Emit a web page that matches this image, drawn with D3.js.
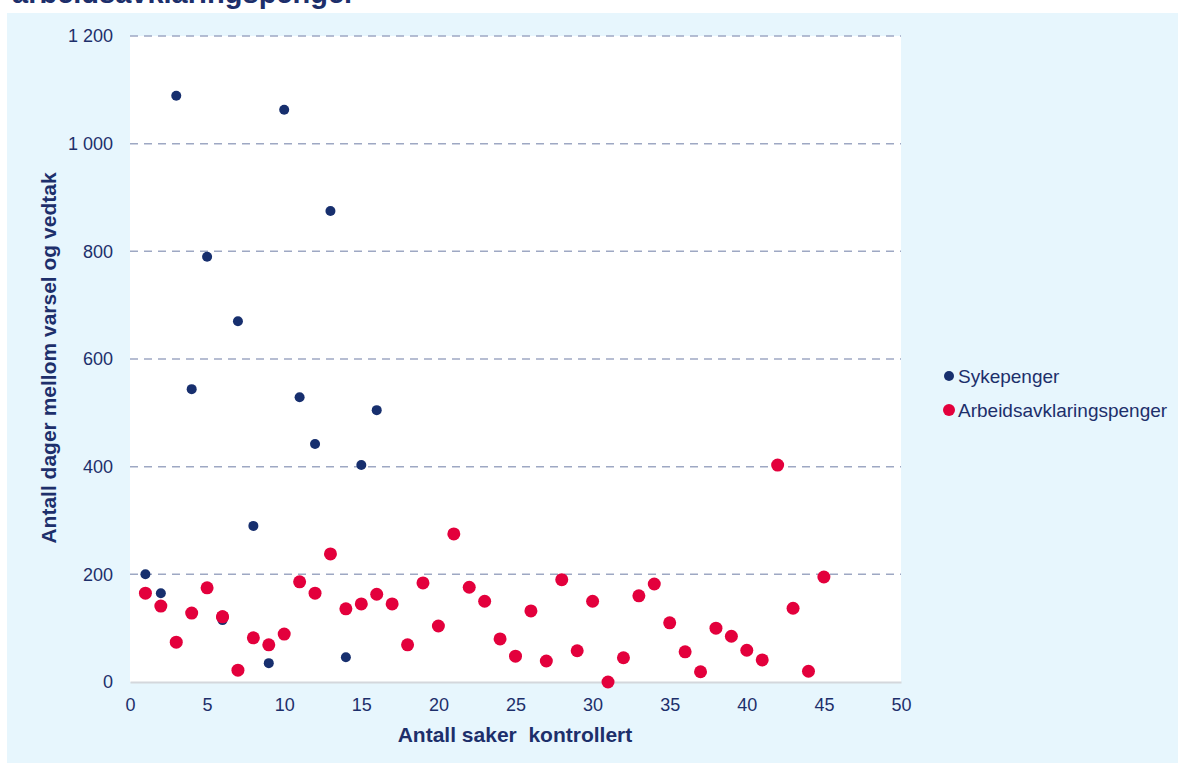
<html>
<head>
<meta charset="utf-8">
<script src="https://d3js.org/d3.v7.min.js"></script>
<style>
  body { margin: 0; background: #ffffff; }
  svg text { font-family: "Liberation Sans", Arial, sans-serif; fill: #1d2f6b; }
</style>
</head>
<body>
<script>
// case number (x) for each series
var caseNo = d3.range(1, 46);
var sykepenger = [200, 165, 1089, 544, 790, 115, 670, 290, 35, 1063, 529, 442, 875, 46, 403, 505];
var aap = [165, 141, 74, 128, 175, 121, 22, 82, 69, 89, 186, 165, 238, 136, 145, 163, 145, 69, 184, 104,
           275, 176, 150, 80, 48, 132, 39, 190, 58, 150, 0, 45, 160, 182, 110, 56, 19, 100, 85, 59,
           41, 403, 137, 20, 195];
var xTicks = [0, 5, 10, 15, 20, 25, 30, 35, 40, 45, 50];
var yTicks = [0, 200, 400, 600, 800, 1000, 1200];
var seriesNames = ["Sykepenger", "Arbeidsavklaringspenger"];

var W = 1178, H = 763;
var navy = "#172f6e", red = "#e3003c";

var svg = d3.select("body").append("svg")
  .attr("width", W).attr("height", H);

// panel background
svg.append("rect").attr("x", 7).attr("y", 13).attr("width", W - 7).attr("height", H - 13)
  .attr("fill", "#e7f6fd");

// title, only the lower part of its last line is in view
svg.append("text").attr("x", 12).attr("y", 3)
  .style("font-size", "29px").style("font-weight", "bold")
  .text("arbeidsavklaringspenger");

var x = d3.scaleLinear().domain([0, 50]).range([130, 901]);
var y = d3.scaleLinear().domain([0, 1200]).range([682, 36]);

// plot area
svg.append("rect").attr("x", x(0)).attr("y", y(1200))
  .attr("width", x(50) - x(0)).attr("height", y(0) - y(1200))
  .attr("fill", "#ffffff");

// gridlines
svg.append("g").selectAll("line")
  .data(yTicks.filter(function(d) { return d > 0; }))
  .enter().append("line")
  .attr("x1", x(0)).attr("x2", x(50))
  .attr("y1", function(d) { return y(d); }).attr("y2", function(d) { return y(d); })
  .attr("stroke", "#9ea8c3").attr("stroke-width", 1.5)
  .attr("stroke-dasharray", "8,6");

// axes
var fmt = function(d) { return d3.format(",")(d).replace(",", " "); };
var xAxis = svg.append("g").attr("transform", "translate(0," + y(0) + ")")
  .call(d3.axisBottom(x).tickValues(xTicks).tickSize(0).tickPadding(16));
xAxis.select(".domain").attr("stroke", "#d4d7dc").attr("stroke-width", 2);
xAxis.selectAll("text").style("font-size", "18px").attr("fill", "#1d2f6b");

var yAxis = svg.append("g").attr("transform", "translate(" + x(0) + ",0)")
  .call(d3.axisLeft(y).tickValues(yTicks).tickFormat(fmt).tickSize(0).tickPadding(17));
yAxis.select(".domain").remove();
yAxis.selectAll("text").style("font-size", "18px").attr("fill", "#1d2f6b");

// axis titles
svg.append("text").attr("x", 515).attr("y", 742).attr("text-anchor", "middle")
  .style("font-size", "21px").style("font-weight", "bold").style("white-space", "pre")
  .text("Antall saker  kontrollert");
svg.append("text")
  .attr("transform", "translate(56,358) rotate(-90)")
  .attr("text-anchor", "middle")
  .style("font-size", "21px").style("font-weight", "bold")
  .text("Antall dager mellom varsel og vedtak");

// points
svg.append("g").selectAll("circle").data(aap).enter().append("circle")
  .attr("cx", function(d, i) { return x(caseNo[i]); })
  .attr("cy", function(d) { return y(d); })
  .attr("r", 6.5).attr("fill", red);
svg.append("g").selectAll("circle").data(sykepenger).enter().append("circle")
  .attr("cx", function(d, i) { return x(caseNo[i]); })
  .attr("cy", function(d) { return y(d); })
  .attr("r", 5).attr("fill", navy);
// red point at case 6 sits on top of the navy one
svg.append("circle").attr("cx", x(caseNo[5])).attr("cy", y(aap[5])).attr("r", 6.5).attr("fill", red);

// legend
var legend = svg.append("g").selectAll("g").data(seriesNames).enter().append("g")
  .attr("transform", function(d, i) { return "translate(949," + (376 + i * 34) + ")"; });
legend.append("circle").attr("r", function(d, i) { return i ? 6 : 5; })
  .attr("fill", function(d, i) { return i ? red : navy; });
legend.append("text").attr("x", 9).attr("dy", "0.35em")
  .style("font-size", "19px").text(function(d) { return d; });
</script>
</body>
</html>
